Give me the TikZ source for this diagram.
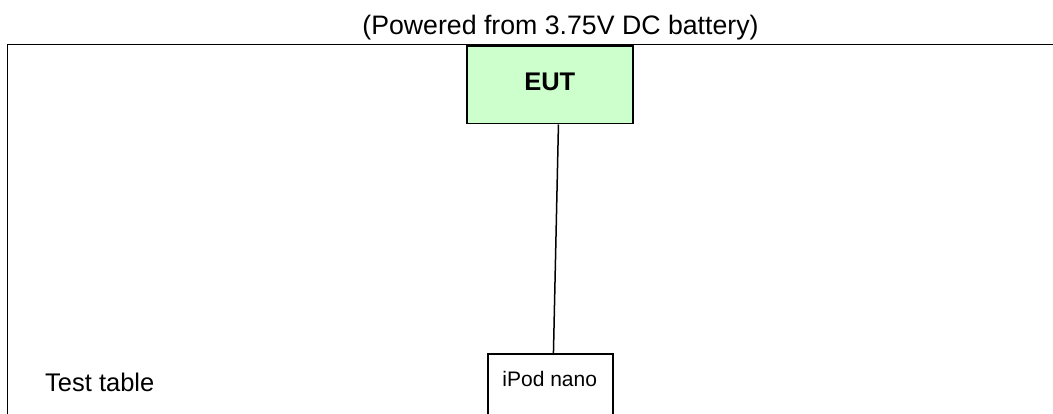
\documentclass[tikz,border=0pt]{standalone}
\usepackage{fontspec}
\setmainfont{Liberation Sans}
\definecolor{eutgreen}{HTML}{CCFFCC}
\begin{document}
\begin{tikzpicture}[x=1pt,y=-1pt,
  frame/.style={draw=black, line width=1.5pt},
  box/.style={draw=black, line width=1.5pt, inner sep=0pt},
  wire/.style={draw=black, line width=1.5pt},
  txt/.style={inner sep=0pt, anchor=base}]
\useasboundingbox (0,0) rectangle (1053,414);
% outer frame (test table)
\draw[frame] (7.5,420) |- (1060,44.5);
% EUT box
\node[box, fill=eutgreen, minimum width=166pt, minimum height=77.8pt, anchor=north west,
      font=\bfseries\fontsize{25.5}{30}\selectfont, text height=18.3pt, text depth=7.7pt]
      (eut) at (466,45.2) {EUT};
% iPod box
\node[box, minimum width=125pt, minimum height=100pt, anchor=north west] (ipod) at (487,353) {};
\node[txt, font=\fontsize{21}{25}\selectfont] (ipodlabel) at (549.7,386.7) {iPod nano};
% connector
\draw[wire] ([xshift=8.7pt]eut.south) -- ([xshift=3.2pt]ipod.north);
% texts
\node[txt, font=\fontsize{26.7}{30}\selectfont] (title) at (560.5,35) {(Powered from 3.75V DC battery)};
\node[txt, anchor=base west, font=\fontsize{25.5}{30}\selectfont] (tt) at (45,391) {Test table};
\end{tikzpicture}
\end{document}
